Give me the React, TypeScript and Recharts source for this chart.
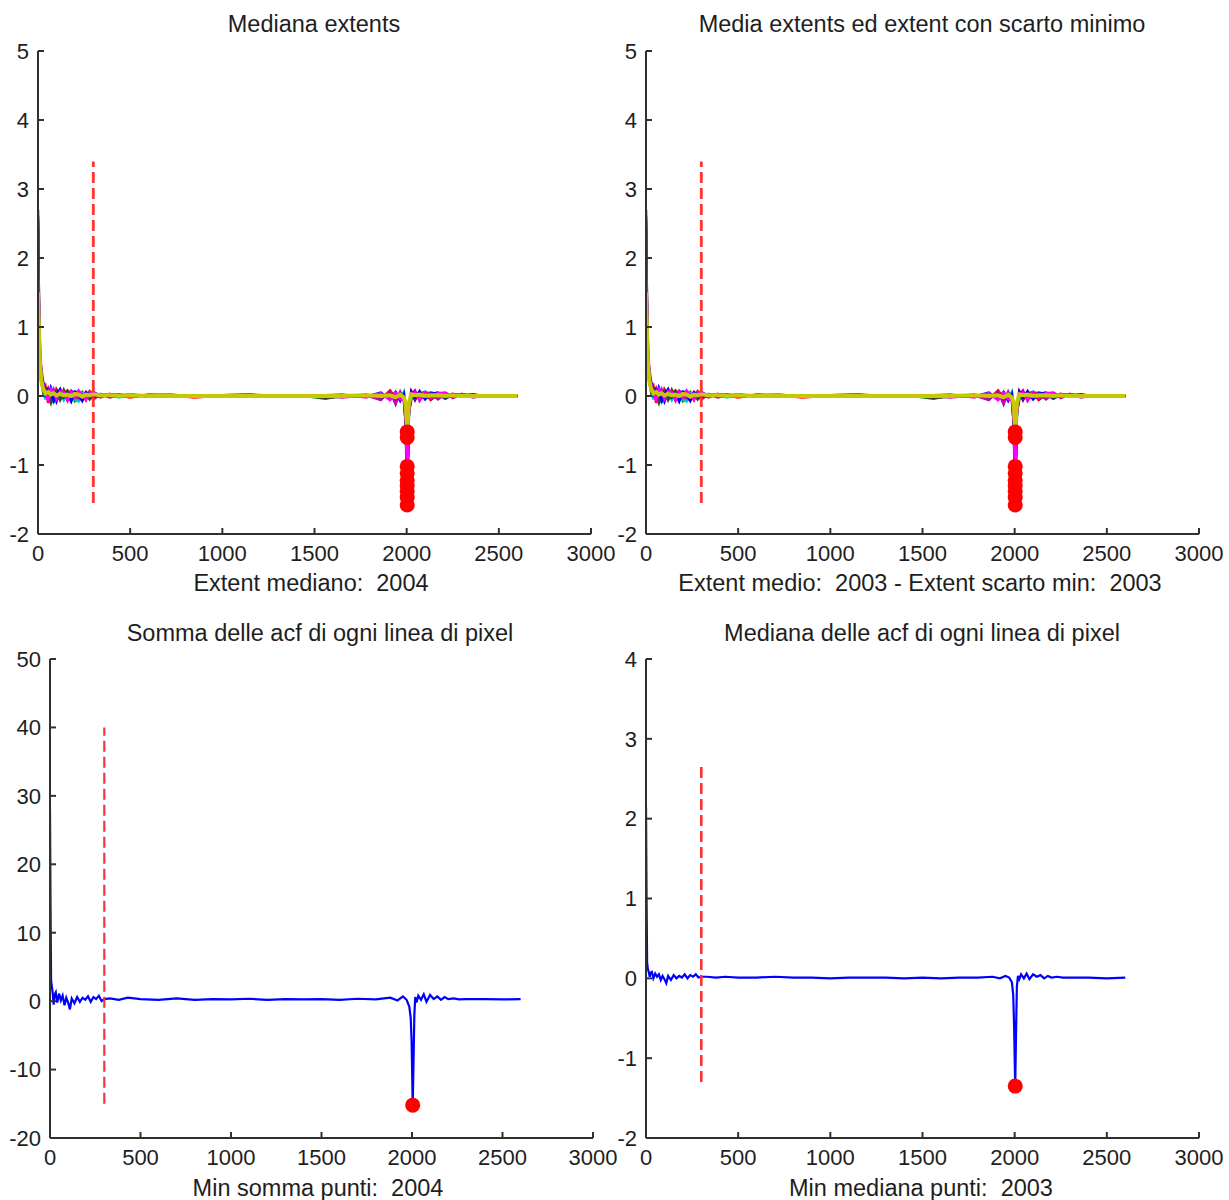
import React from 'react';
import { ComposedChart, Line, Scatter, XAxis, YAxis } from 'recharts';

// ---------- data ----------
const xTicks = [0, 500, 1000, 1500, 2000, 2500, 3000];
const topYTicks = [-2, -1, 0, 1, 2, 3, 4, 5];
const sumYTicks = [-20, -10, 0, 10, 20, 30, 40, 50];
const medYTicks = [-2, -1, 0, 1, 2, 3, 4];

const thresholdLag = 300;
const topThresholdSpan = [-1.55, 3.4];
const sumThresholdSpan = [-15, 40];
const medThresholdSpan = [-1.3, 2.65];

const lagTop = [
  0, 5, 10, 18, 28, 40, 55, 70, 85, 100,
  120, 140, 160, 180, 200, 220, 240, 260, 280, 300,
  340, 390, 440, 500, 600, 720, 850, 1000, 1150, 1300,
  1450, 1560, 1650, 1780, 1860, 1910, 1940, 1965, 1985, 1995,
  2003, 2012, 2025, 2045, 2070, 2100, 2130, 2170, 2210, 2250,
  2300, 2360, 2430, 2520, 2600,
];

const extBlue = [
  2.6, 1.4, 0.6, 0.3, 0.15, 0.1, -0.05, 0.12, 0.02, -0.08,
  0.08, -0.04, 0.06, -0.06, 0.04, 0.07, -0.05, 0.03, -0.02, 0.04,
  0.01, 0.03, -0.01, 0.02, 0, 0.01, -0.01, 0.01, 0, 0.01,
  -0.01, 0, 0.01, -0.01, 0.03, -0.04, 0.06, -0.05, 0.02, -0.25,
  -1.02, -0.2, 0.05, -0.06, 0.07, -0.04, 0.05, 0.03, -0.03, 0.02,
  0.01, 0, 0.01, 0, 0,
];
const extGreen = [
  1.6, 1.2, 0.5, 0.25, 0.2, 0.05, 0.1, -0.08, 0.06, 0.04,
  -0.05, 0.09, -0.03, 0.05, -0.07, 0.02, 0.06, -0.04, 0.05, -0.03,
  0.02, -0.01, 0.02, 0, 0.01, -0.01, 0.01, 0, -0.01, 0.01,
  0, -0.04, 0.01, 0.01, -0.03, 0.05, -0.06, 0.04, -0.03, -0.3,
  -1.12, -0.25, -0.05, 0.06, -0.05, 0.04, -0.06, 0.02, 0.04, -0.02,
  0.02, -0.01, 0, 0.01, 0,
];
const extRed = [
  2.5, 1.45, 0.8, 0.35, 0.1, 0.15, -0.1, 0.05, -0.06, 0.1,
  0.02, 0.07, -0.07, 0.03, 0.06, -0.05, 0.04, -0.06, 0.07, 0.02,
  -0.02, 0.03, 0.01, -0.02, 0.02, 0.01, -0.02, 0.01, 0.02, -0.01,
  0.01, 0.01, -0.01, 0.02, -0.05, 0.08, -0.03, 0.05, -0.08, -0.35,
  -1.3, -0.15, 0.07, -0.04, 0.03, 0.06, -0.05, 0.04, -0.02, 0.03,
  -0.01, 0.02, 0, -0.01, 0,
];
const extCyan = [
  2.55, 1.1, 0.7, 0.25, 0.12, -0.05, 0.08, 0.1, -0.1, 0.03,
  0.06, -0.06, 0.04, 0.08, -0.05, -0.08, 0.05, 0.02, -0.04, 0.05,
  0.02, 0.01, -0.02, 0.02, -0.01, 0.01, 0.01, -0.01, 0.01, 0,
  0.01, -0.01, 0.01, -0.01, 0.04, -0.03, 0.04, -0.04, 0.06, -0.15,
  -0.6, -0.18, 0.04, 0.05, -0.04, 0.06, 0.02, -0.04, 0.03, 0.01,
  0.02, 0, 0.01, 0, 0,
];
const extMagenta = [
  2.2, 1.3, 0.55, 0.4, 0.2, 0.08, 0.12, -0.03, 0.09, -0.05,
  0.05, 0.03, -0.05, 0.07, 0.05, -0.03, -0.06, 0.06, 0.01, -0.05,
  0.03, -0.02, 0.01, 0.02, -0.01, 0, 0.01, -0.01, 0.01, 0.01,
  -0.01, 0.01, -0.02, 0.01, -0.06, 0.07, -0.12, 0.06, -0.06, -0.4,
  -1.47, -0.22, 0.03, 0.08, -0.07, 0.05, 0.04, -0.05, 0.04, -0.03,
  0.03, -0.02, 0.01, 0, 0,
];
const extBlack = [
  1.9, 1.0, 0.45, 0.2, 0.05, 0.12, 0.02, -0.1, 0.04, 0.07,
  -0.06, 0.04, 0.08, -0.04, 0.02, 0.05, -0.03, 0.04, -0.05, 0.03,
  0.01, -0.01, 0.01, 0.01, 0, -0.01, 0.01, 0.01, 0, -0.01,
  0.01, -0.03, -0.01, 0.01, -0.02, 0.04, -0.05, 0.03, -0.02, -0.3,
  -1.22, -0.2, 0.02, -0.03, 0.05, -0.02, 0.04, 0.02, -0.04, 0.02,
  0, 0.01, 0, 0, 0,
];
const extBlue2 = [
  2.7, 1.35, 0.65, 0.3, 0.18, 0.02, 0.09, 0.06, -0.07, 0.02,
  0.1, -0.02, 0.03, -0.08, 0.06, 0.03, -0.07, 0.05, 0.03, -0.02,
  0.02, 0.01, -0.01, 0.01, 0.01, -0.01, 0, 0.01, -0.01, 0.01,
  0.01, -0.01, 0.01, -0.01, 0.05, -0.05, 0.05, -0.07, 0.03, -0.45,
  -1.58, -0.3, 0.06, -0.02, 0.06, -0.05, 0.03, 0.05, -0.02, 0.03,
  0.01, 0.02, -0.01, 0.01, 0,
];
const extMagenta2 = [
  2.3, 1.25, 0.6, 0.28, 0.15, 0.06, -0.08, 0.1, 0.05, -0.04,
  0.07, 0.05, -0.06, 0.04, -0.03, 0.08, 0.02, -0.05, 0.04, 0.06,
  -0.01, 0.02, 0.02, -0.01, 0.01, 0.02, -0.01, 0.01, 0.02, 0,
  0.01, 0.01, 0.02, -0.02, 0.04, -0.06, 0.05, -0.05, -0.05, -0.35,
  -1.38, -0.25, 0.04, 0.04, -0.06, 0.03, -0.03, 0.04, 0.05, -0.01,
  0.02, 0.01, 0, 0.01, 0,
];
const extYellow = [
  1.5, 1.0, 0.5, 0.22, 0.1, 0.04, 0.06, 0.02, 0.04, 0.01,
  0.03, 0.01, 0.02, 0.0, 0.03, 0.02, -0.01, 0.02, 0.01, 0.02,
  0.01, 0.01, 0, 0.01, 0, 0, 0, 0, 0, 0,
  0, 0, 0, 0.01, 0, 0.01, -0.02, 0.02, -0.02, -0.12,
  -0.52, -0.1, 0.02, 0.01, 0.02, 0, 0.01, 0.01, 0, 0.01,
  0, 0, 0, 0, 0,
];

const lagSum = [
  0, 3, 6, 10, 15, 20, 25, 32, 40, 50,
  60, 70, 80, 90, 100, 110, 120, 135, 150, 165,
  180, 195, 210, 225, 240, 255, 270, 285, 300, 330,
  380, 430, 500, 600, 700, 800, 900, 1000, 1100, 1200,
  1300, 1400, 1500, 1600, 1700, 1800, 1880, 1920, 1950, 1970,
  1985, 1993, 1998, 2004, 2009, 2013, 2018, 2025, 2035, 2050,
  2065, 2080, 2100, 2120, 2140, 2160, 2180, 2200, 2230, 2260,
  2300, 2400, 2500, 2600,
];
const sumAcf = [
  28, 13.5, 3, 2.2, 1.2, -0.5, 0.9, 1.3, -0.2, 1.1,
  0.1, 0.8, -0.6, 0.5, -0.2, -1.2, 0.4, -0.3, 0.6, -0.1,
  0.5, 0.2, 0.7, -0.1, 0.6, 0.3, 0.8, 0, 0.3, 0.4,
  0.2, 0.5, 0.3, 0.2, 0.4, 0.2, 0.3, 0.25, 0.35, 0.2,
  0.3, 0.25, 0.3, 0.2, 0.35, 0.25, 0.5, 0.1, 0.7, 0.2,
  -0.8, -2.5, -6, -15.2, -8, -2, 0.6, -0.2, 0.8, 0.2,
  1.0, -0.1, 0.9, 0.3, 0.7, 0.2, 0.6, 0.3, 0.4, 0.25,
  0.3, 0.3, 0.25, 0.3,
];

const lagMed = [
  0, 3, 6, 10, 15, 20, 25, 32, 40, 50,
  60, 70, 80, 90, 100, 110, 120, 135, 150, 165,
  180, 195, 210, 225, 240, 255, 270, 285, 300, 330,
  380, 430, 500, 600, 700, 800, 900, 1000, 1100, 1200,
  1300, 1400, 1500, 1600, 1700, 1800, 1880, 1920, 1950, 1970,
  1985, 1992, 1997, 2003, 2008, 2012, 2018, 2025, 2035, 2050,
  2065, 2080, 2100, 2120, 2140, 2160, 2180, 2200, 2230, 2260,
  2300, 2400, 2500, 2600,
];
const medAcf = [
  2.15, 1.0, 0.2, 0.12, 0.08, 0.02, 0.07, 0.08, 0.0, 0.06,
  0.02, 0.05, -0.02, 0.03, -0.01, -0.06, 0.03, -0.02, 0.04, 0.0,
  0.03, 0.01, 0.05, 0.0, 0.04, 0.02, 0.05, 0.01, 0.02, 0.02,
  0.01, 0.02, 0.01, 0.01, 0.02, 0.01, 0.01, 0.0, 0.01, 0.01,
  0.01, 0.0, 0.01, 0.0, 0.01, 0.01, 0.02, 0.0, 0.03, 0.01,
  -0.05, -0.2, -0.6, -1.35, -0.6, -0.1, 0.03, -0.01, 0.05, 0.0,
  0.06, -0.01, 0.05, 0.02, 0.04, 0.0, 0.03, 0.01, 0.02, 0.01,
  0.01, 0.01, 0.0, 0.01,
];

// ---------- styling ----------
const FONT = '"Liberation Sans", Arial, Helvetica, sans-serif';
const AXIS = '#303030';
const TEXT = '#1e1e1e';
const DASH_RED = '#ff3333';
const DOT_RED = '#ff0000';

const topSeriesStyle = [
  { values: extBlue, color: '#0000ff', width: 2.5 },
  { values: extGreen, color: '#008000', width: 2.5 },
  { values: extRed, color: '#ff0000', width: 2.5 },
  { values: extCyan, color: '#00c8c8', width: 2.5 },
  { values: extMagenta, color: '#c800c8', width: 2.5 },
  { values: extBlack, color: '#404040', width: 2.5 },
  { values: extBlue2, color: '#0000ff', width: 2.5 },
  { values: extMagenta2, color: '#ff00ff', width: 2.5 },
  { values: extYellow, color: '#c8c800', width: 4 },
];

const toPoints = (xs: number[], ys: number[]) => xs.map((x, i) => ({ x, y: ys[i] }));
const minPoint = (xs: number[], ys: number[]) => {
  let k = 0;
  ys.forEach((v, i) => { if (v < ys[k]) k = i; });
  return { x: xs[k], y: ys[k] };
};

type LineSpec = { data: { x: number; y: number }[]; color: string; width: number };

const YW = 40;
const XH = 40;
const MT = 20;
const MR = 30;

function Panel(props: {
  plotLeft: number; plotTop: number; plotW: number; plotH: number;
  yDomain: [number, number]; yTicks: number[];
  lines: LineSpec[]; dashSpan: number[]; dashWidth: number; dots: { x: number; y: number }[];
}) {
  const { plotLeft, plotTop, plotW, plotH, yDomain, yTicks, lines, dashSpan, dashWidth, dots } = props;
  const W = plotW + YW + MR;
  const H = plotH + MT + XH;
  const dashData = [{ x: thresholdLag, y: dashSpan[0] }, { x: thresholdLag, y: dashSpan[1] }];
  const tickStyle = { fill: TEXT, fontSize: 22, fontFamily: FONT };
  return (
    <div style={{ position: 'absolute', left: plotLeft - YW, top: plotTop - MT }}>
      <ComposedChart width={W} height={H} margin={{ top: MT, right: MR, bottom: 0, left: 0 }}>
        <XAxis
          type="number" dataKey="x" domain={[0, 3000]} ticks={xTicks} interval={0}
          allowDataOverflow height={XH} tickSize={-6} tickMargin={17}
          axisLine={{ stroke: AXIS, strokeWidth: 2 }} tickLine={{ stroke: AXIS, strokeWidth: 2 }}
          tick={tickStyle}
        />
        <YAxis
          type="number" domain={yDomain} ticks={yTicks} interval={0}
          allowDataOverflow width={YW} tickSize={-6} tickMargin={15}
          axisLine={{ stroke: AXIS, strokeWidth: 2 }} tickLine={{ stroke: AXIS, strokeWidth: 2 }}
          tick={tickStyle}
        />
        {lines.map((l, i) => (
          <Line
            key={i} data={l.data} dataKey="y" type="linear" stroke={l.color}
            strokeWidth={l.width} dot={false} activeDot={false} isAnimationActive={false}
          />
        ))}
        <Line
          data={dashData} dataKey="y" type="linear" stroke={DASH_RED} strokeWidth={dashWidth}
          strokeDasharray="11 5" dot={false} activeDot={false} isAnimationActive={false}
        />
        <Scatter
          data={dots} dataKey="y" isAnimationActive={false}
          shape={(p: any) => <circle cx={p.cx} cy={p.cy} r={7.5} fill={DOT_RED} />}
        />
      </ComposedChart>
    </div>
  );
}

export default function App() {
  const topLines: LineSpec[] = topSeriesStyle.map((s) => ({
    data: toPoints(lagTop, s.values), color: s.color, width: s.width,
  }));
  const topDots = topSeriesStyle.map((s) => minPoint(lagTop, s.values));
  const sumLines: LineSpec[] = [{ data: toPoints(lagSum, sumAcf), color: '#0000ff', width: 2.2 }];
  const medLines: LineSpec[] = [{ data: toPoints(lagMed, medAcf), color: '#0000ff', width: 2.2 }];

  const texts = [
    { x: 314, y: 24, t: 'Mediana extents' },
    { x: 922, y: 24, t: 'Media extents ed extent con scarto minimo' },
    { x: 320, y: 633, t: 'Somma delle acf di ogni linea di pixel' },
    { x: 922, y: 633, t: 'Mediana delle acf di ogni linea di pixel' },
    { x: 311, y: 583, t: 'Extent mediano:  2004' },
    { x: 920, y: 583, t: 'Extent medio:  2003 - Extent scarto min:  2003' },
    { x: 318, y: 1188, t: 'Min somma punti:  2004' },
    { x: 921, y: 1188, t: 'Min mediana punti:  2003' },
  ];

  return (
    <div style={{ position: 'absolute', left: 0, top: 0, width: 1229, height: 1200, background: '#fff', overflow: 'hidden' }}>
      <style>{'.recharts-surface{overflow:visible}'}</style>
      <Panel plotLeft={38} plotTop={51} plotW={553} plotH={483} yDomain={[-2, 5]} yTicks={topYTicks}
        lines={topLines} dashSpan={topThresholdSpan} dashWidth={2.8} dots={topDots} />
      <Panel plotLeft={646} plotTop={51} plotW={553} plotH={483} yDomain={[-2, 5]} yTicks={topYTicks}
        lines={topLines} dashSpan={topThresholdSpan} dashWidth={2.8} dots={topDots} />
      <Panel plotLeft={50} plotTop={659} plotW={543} plotH={479} yDomain={[-20, 50]} yTicks={sumYTicks}
        lines={sumLines} dashSpan={sumThresholdSpan} dashWidth={2.2} dots={[minPoint(lagSum, sumAcf)]} />
      <Panel plotLeft={646} plotTop={659} plotW={553} plotH={479} yDomain={[-2, 4]} yTicks={medYTicks}
        lines={medLines} dashSpan={medThresholdSpan} dashWidth={2.6} dots={[minPoint(lagMed, medAcf)]} />
      <svg width={1229} height={1200} style={{ position: 'absolute', left: 0, top: 0, pointerEvents: 'none' }}>
        {texts.map((d, i) => (
          <text key={i} x={d.x} y={d.y} textAnchor="middle" dominantBaseline="central"
            fill={TEXT} fontFamily={FONT} fontSize={23.5} style={{ whiteSpace: 'pre' }}>
            {d.t}
          </text>
        ))}
      </svg>
    </div>
  );
}
